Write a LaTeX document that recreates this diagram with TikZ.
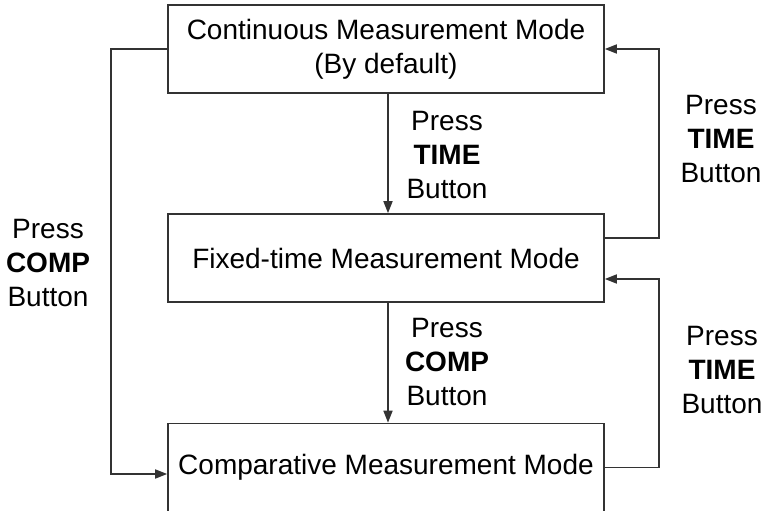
\documentclass[tikz,border=0pt]{standalone}
\usepackage{fontspec}
\setmainfont{Liberation Sans}
\usetikzlibrary{arrows.meta,positioning}
\definecolor{linec}{HTML}{333333}
\tikzset{
  modebox/.style={draw=linec, line width=1.6pt, minimum width=436pt, minimum height=88pt, inner sep=0pt, align=center, font=\fontsize{28}{34}\selectfont},
  lbl/.style={align=center, inner sep=0pt, font=\fontsize{28}{34}\selectfont},
  conn/.style={draw=linec, line width=1.6pt, -{Triangle[length=12pt,width=9pt]}}
}
\begin{document}
\begin{tikzpicture}[x=1pt,y=-1pt]
\useasboundingbox (0,0) rectangle (769,511);
\node[modebox] (top) at (386,49) {Continuous Measurement Mode\\(By default)};
\node[modebox] (mid) at (386,258) {Fixed-time Measurement Mode};
\node[modebox] (bot) at (386,467.5) {Comparative Measurement Mode};
\node[lbl] (l1) at (447,155) {Press\\\textbf{TIME}\\Button};
\node[lbl] (l2) at (447,362) {Press\\\textbf{COMP}\\Button};
\node[lbl] (l3) at (721,139) {Press\\\textbf{TIME}\\Button};
\node[lbl] (l4) at (722,370) {Press\\\textbf{TIME}\\Button};
\node[lbl] (l5) at (48,263) {Press\\\textbf{COMP}\\Button};
\draw[conn] ([xshift=2pt]top.south) -- ([xshift=2pt]mid.north);
\draw[conn] ([xshift=2pt]mid.south) -- ([xshift=2pt]bot.north);
\coordinate (lc) at (111,474);
\draw[conn] (top.west) -| (lc) -- ([yshift=-6.5pt]bot.west);
\coordinate (rc1) at (659,238);
\draw[conn] ([yshift=20pt]mid.east) -- (rc1) |- (top.east);
\coordinate (rc2) at (659,467.5);
\draw[conn] (bot.east) -- (rc2) |- ([yshift=-21pt]mid.east);
\end{tikzpicture}
\end{document}
